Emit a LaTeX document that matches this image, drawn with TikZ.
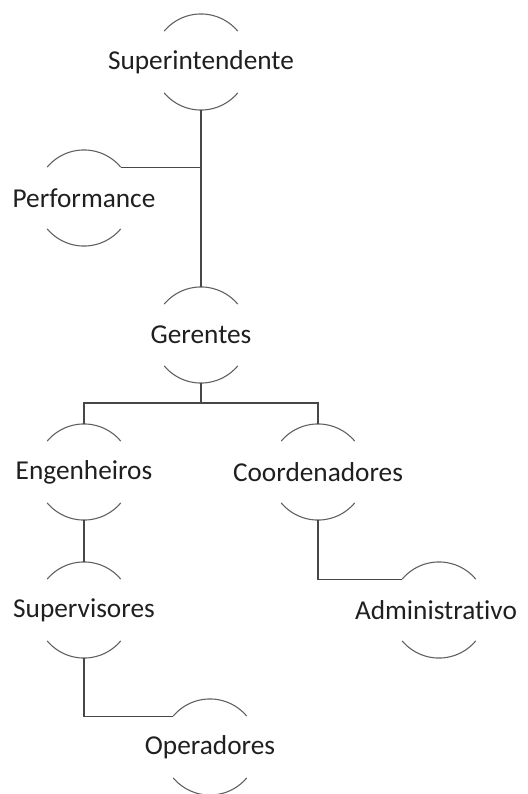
\documentclass[tikz,border=0pt]{standalone}
\usepackage{fontspec}
\setmainfont[Ligatures=NoCommon]{Carlito}
\usetikzlibrary{calc}
\begin{document}
\begin{tikzpicture}[x=1bp,y=-1bp,
  label/.style={inner sep=0pt,outer sep=0pt,text=black!88,
    font=\fontsize{27.3bp}{30bp}\selectfont},
  arcline/.style={draw=black!62,line width=1.1bp},
  link/.style={draw=black!72,line width=1.2bp}]
\useasboundingbox (0,0) rectangle (528,794);

% role labels
\node[label] (sup) at (201,62)  {Superintendente};
\node[label] (per) at (84,198)  {Performance};
\node[label] (ger) at (201,335) {Gerentes};
\node[label] (eng) at (84,472)  {Engenheiros};
\node[label] (coo) at (318,472) {Coordenadores};
\node[label] (svs) at (84,610)  {Supervisores};
\node[label] (adm) at (436,610) {Administrativo};
\node[label] (ope) at (210,747) {Operadores};

% upper and lower arcs around each label, plus their attach points
% (y grows downwards, so angle 270 is straight up)
\foreach \n/\dx in {sup/0,per/0,ger/0,eng/0,coo/0,svs/0,adm/3,ope/0}{
  \coordinate (\n-c)   at ([xshift=\dx bp]\n.center);
  \coordinate (\n-top) at ($(\n-c)+(0,-48)$);
  \coordinate (\n-bot) at ($(\n-c)+(0,48)$);
  \coordinate (\n-ne)  at ($(\n-c)+(36.8,-30.9)$);
  \coordinate (\n-nw)  at ($(\n-c)+(-36.8,-30.9)$);
  \draw[arcline] (\n-nw) arc[start angle=220,end angle=320,radius=48];
  \draw[arcline] ($(\n-c)+(-36.8,30.9)$) arc[start angle=140,end angle=40,radius=48];
}

% connectors
\coordinate (split) at ($(ger-bot)+(0,20)$);
\draw[link] (sup-bot) -- (ger-top);
\draw[link] (per-ne) -- (per-ne -| sup-bot);
\draw[link] (ger-bot) -- (split);
\draw[link] (eng-top) |- (split) -| (coo-top);
\draw[link] (eng-bot) -- (svs-top);
\draw[link] (coo-bot) |- (adm-nw);
\draw[link] (svs-bot) |- (ope-nw);
\end{tikzpicture}
\end{document}
